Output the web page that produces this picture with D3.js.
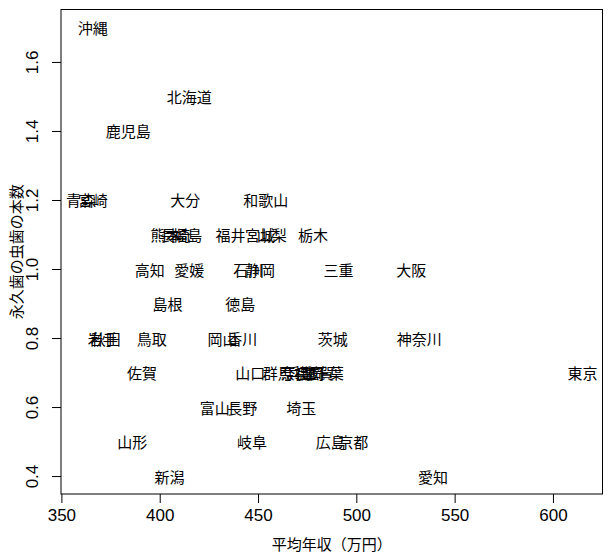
<!DOCTYPE html>
<html>
<head>
<meta charset="utf-8">
<script src="https://cdn.jsdelivr.net/npm/d3@7"></script>
<style>
  body { margin: 0; background: #fff; }
  text { font-family: "Noto Sans CJK JP", "Noto Sans", sans-serif; fill: #000; }
  .tick text { font-family: "Liberation Sans", Arial, sans-serif; }
</style>
</head>
<body>
<div id="chart"></div>
<script>
// 都道府県ごとの平均年収（万円）と永久歯の虫歯の本数
const prefectures = [
    "沖縄", "北海道", "鹿児島", "青森", "宮崎", "大分", "和歌山",
    "熊本", "長崎", "福島", "福井", "宮城", "山梨", "栃木",
    "高知", "愛媛", "石川", "静岡", "三重", "大阪",
    "島根", "徳島",
    "岩手", "秋田", "鳥取", "岡山", "香川", "茨城", "神奈川",
    "佐賀", "山口", "群馬", "奈良", "兵庫", "福岡", "滋賀", "千葉", "東京",
    "富山", "長野", "埼玉",
    "山形", "岐阜", "広島", "京都",
    "新潟", "愛知"
];
const income = [
    366, 415, 384, 360, 366, 413, 454,
    403, 408, 414, 436, 451, 457, 478,
    395, 415, 445, 451, 491, 528,
    404, 441,
    371, 372.5, 396, 432, 442, 488, 532,
    391, 446, 460, 469, 472, 476, 481, 486, 615,
    428, 442, 472,
    386, 447, 487, 498.5,
    405, 539
];
const caries = [
    1.7, 1.5, 1.4, 1.2, 1.2, 1.2, 1.2,
    1.1, 1.1, 1.1, 1.1, 1.1, 1.1, 1.1,
    1.0, 1.0, 1.0, 1.0, 1.0, 1.0,
    0.9, 0.9,
    0.8, 0.8, 0.8, 0.8, 0.8, 0.8, 0.8,
    0.7, 0.7, 0.7, 0.7, 0.7, 0.7, 0.7, 0.7, 0.7,
    0.6, 0.6, 0.6,
    0.5, 0.5, 0.5, 0.5,
    0.4, 0.4
];
const xTicks = [350, 400, 450, 500, 550, 600];
const yTicks = [0.4, 0.6, 0.8, 1.0, 1.2, 1.4, 1.6];

const data = prefectures.map((name, i) => ({ name, x: income[i], y: caries[i] }));

const width = 612;
const height = 558;
const margin = { top: 9.5, right: 9.5, bottom: 64, left: 61 };

// R風に範囲を4%ずつ広げる
function pad(ext) {
    const d = (ext[1] - ext[0]) * 0.04;
    return [ext[0] - d, ext[1] + d];
}

const x = d3.scaleLinear()
    .domain(pad(d3.extent(income)))
    .range([margin.left, width - margin.right]);

const y = d3.scaleLinear()
    .domain(pad(d3.extent(caries)))
    .range([height - margin.bottom, margin.top]);

const svg = d3.select("#chart")
    .append("svg")
    .attr("width", width)
    .attr("height", height);

// 枠
svg.append("rect")
    .attr("x", margin.left)
    .attr("y", margin.top)
    .attr("width", width - margin.left - margin.right)
    .attr("height", height - margin.top - margin.bottom)
    .attr("fill", "none")
    .attr("stroke", "#000")
    .attr("stroke-width", 1);

// x軸
const xAxis = svg.append("g")
    .attr("transform", `translate(0, ${height - margin.bottom})`)
    .call(d3.axisBottom(x).tickValues(xTicks).tickSize(9).tickPadding(6));
xAxis.select(".domain").remove();
xAxis.selectAll(".tick text").style("font-size", "17px");

// y軸（ラベルは縦向き）
const yAxis = svg.append("g")
    .attr("transform", `translate(${margin.left}, 0)`)
    .call(d3.axisLeft(y).tickValues(yTicks).tickSize(9).tickFormat(d3.format(".1f")));
yAxis.select(".domain").remove();
yAxis.selectAll(".tick text")
    .style("font-size", "17px")
    .attr("x", null)
    .attr("dy", null)
    .attr("text-anchor", "middle")
    .attr("transform", "translate(-23, 0) rotate(-90)");

// 軸タイトル
svg.append("text")
    .attr("x", (margin.left + width - margin.right) / 2)
    .attr("y", 543)
    .attr("text-anchor", "middle")
    .attr("dominant-baseline", "central")
    .style("font-size", "15px")
    .text("平均年収（万円）");

svg.append("text")
    .attr("transform", `translate(15, ${(margin.top + height - margin.bottom) / 2}) rotate(-90)`)
    .attr("text-anchor", "middle")
    .attr("dominant-baseline", "central")
    .style("font-size", "15px")
    .text("永久歯の虫歯の本数");

// 都道府県名
svg.append("g")
    .selectAll("text")
    .data(data)
    .enter()
    .append("text")
    .attr("x", d => x(d.x))
    .attr("y", d => y(d.y))
    .attr("text-anchor", "middle")
    .attr("dominant-baseline", "central")
    .style("font-size", "15px")
    .text(d => d.name);
</script>
</body>
</html>
